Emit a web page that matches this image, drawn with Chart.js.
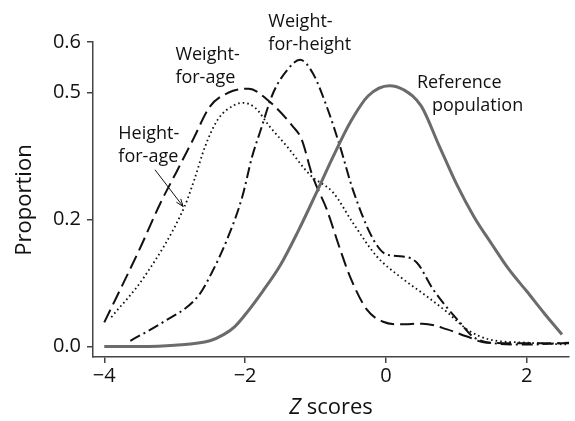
<!DOCTYPE html>
<html>
<head>
<meta charset="utf-8">
<script src="https://cdn.jsdelivr.net/npm/chart.js@4.4.1/dist/chart.umd.min.js"></script>
<style>
  html, body { margin: 0; padding: 0; background: #fff; }
  #wrap { width: 575px; height: 421px; }
</style>
</head>
<body>
<div id="wrap"><canvas id="zChart"></canvas></div>
<script>
// --- datos ---
const zTicks = [-4, -2, 0, 2];
const zTickLabels = ['\u22124', '\u22122', '0', '2'];
const propTicks = [0, 0.2, 0.5, 0.6];
const propTickLabels = ['0.0', '0.2', '0.5', '0.6'];

// Reference population
const refZ = [-4, -3.5, -3, -2.5, -2.3, -2.15, -2, -1.75, -1.5, -1.25, -1, -0.75, -0.5, -0.25, 0.05, 0.25, 0.5, 0.75, 1, 1.25, 1.5, 1.75, 2, 2.25, 2.5];
const refP = [0, 0, 0.002, 0.009, 0.019, 0.031, 0.050, 0.087, 0.128, 0.181, 0.259, 0.349, 0.432, 0.493, 0.514, 0.506, 0.469, 0.377, 0.285, 0.207, 0.162, 0.121, 0.087, 0.052, 0.019];

// Weight-for-age
const wfaZ = [-4, -3.5, -3.2, -2.98, -2.74, -2.5, -2.24, -1.95, -1.68, -1.32, -1.2, -1.04, -0.84, -0.65, -0.51, -0.27, -0.04, 0.2, 0.52, 0.87, 1.14, 1.43, 2.0, 2.6];
const wfaP = [0.038, 0.153, 0.240, 0.311, 0.389, 0.467, 0.500, 0.508, 0.483, 0.420, 0.391, 0.302, 0.224, 0.153, 0.110, 0.058, 0.039, 0.035, 0.036, 0.027, 0.016, 0.006, 0.005, 0.005];

// Height-for-age
const hfaZ = [-3.9, -3.43, -2.86, -2.72, -2.57, -2.39, -2.14, -2.03, -1.86, -1.65, -1.4, -1.08, -0.75, -0.47, -0.13, 0.2, 0.58, 0.87, 1.06, 1.19, 1.47, 2.0, 2.6];
const hfaP = [0.046, 0.110, 0.231, 0.295, 0.372, 0.436, 0.472, 0.476, 0.465, 0.420, 0.372, 0.306, 0.264, 0.195, 0.142, 0.110, 0.079, 0.054, 0.035, 0.024, 0.011, 0.006, 0.003];

// Weight-for-height
const wfhZ = [-3.63, -3.17, -2.67, -2.47, -2.24, -2.04, -1.9, -1.79, -1.6, -1.4, -1.22, -1.04, -0.84, -0.65, -0.47, -0.18, 0.01, 0.24, 0.44, 0.67, 0.87, 1.05, 1.23, 1.47, 2.0, 2.6];
const wfhP = [0.009, 0.038, 0.079, 0.117, 0.173, 0.254, 0.349, 0.406, 0.500, 0.545, 0.565, 0.539, 0.467, 0.372, 0.271, 0.169, 0.145, 0.142, 0.132, 0.090, 0.061, 0.038, 0.016, 0.006, 0.003, 0.006];

// --- eje Y: las marcas no están equiespaciadas en la figura ---
const tickSlots = [0, 1, 2, 2.4];
function toAxis(p) {
    let i = 0;
    while (i < propTicks.length - 2 && p > propTicks[i + 1]) i++;
    const t = (p - propTicks[i]) / (propTicks[i + 1] - propTicks[i]);
    return tickSlots[i] + t * (tickSlots[i + 1] - tickSlots[i]);
}
const pts = (zs, ps) => zs.map((z, i) => ({ x: z, y: toAxis(ps[i]) }));

// --- textos ---
const notes = [
    { lines: ['Weight-', 'for-height'], z: -1.67, p: 0.64, indent: 0 },
    { lines: ['Weight-', 'for-age'], z: -2.99, p: 0.575, indent: 0 },
    { lines: ['Height-', 'for-age'], z: -3.8, p: 0.403, indent: 0 },
    { lines: ['Reference', 'population'], z: 0.44, p: 0.52, indent: 15 }
];
const arrowFrom = { z: -3.28, p: 0.318 };
const arrowTo = { z: -2.88, p: 0.231 };

const FONT = '"Open Sans", "Noto Sans", sans-serif';

const notesPlugin = {
    id: 'notes',
    afterDraw(chart) {
        const { ctx, scales: { x, y } } = chart;
        ctx.save();
        ctx.fillStyle = '#111';
        ctx.font = '18px ' + FONT;
        ctx.textBaseline = 'middle';
        ctx.textAlign = 'left';
        notes.forEach(n => {
            const px = x.getPixelForValue(n.z);
            const py = y.getPixelForValue(toAxis(n.p));
            n.lines.forEach((t, i) => ctx.fillText(t, px + n.indent * i, py + i * 23));
        });

        // flecha Height-for-age
        const x0 = x.getPixelForValue(arrowFrom.z), y0 = y.getPixelForValue(toAxis(arrowFrom.p));
        const x1 = x.getPixelForValue(arrowTo.z), y1 = y.getPixelForValue(toAxis(arrowTo.p));
        const ang = Math.atan2(y1 - y0, x1 - x0);
        ctx.strokeStyle = '#111';
        ctx.lineWidth = 1;
        ctx.beginPath();
        ctx.moveTo(x0, y0);
        ctx.lineTo(x1, y1);
        ctx.moveTo(x1 - 8 * Math.cos(ang - 0.35), y1 - 8 * Math.sin(ang - 0.35));
        ctx.lineTo(x1, y1);
        ctx.lineTo(x1 - 8 * Math.cos(ang + 0.35), y1 - 8 * Math.sin(ang + 0.35));
        ctx.stroke();

        // títulos de ejes
        ctx.font = '22px ' + FONT;
        ctx.textAlign = 'center';
        ctx.save();
        ctx.translate(25, 200);
        ctx.rotate(-Math.PI / 2);
        ctx.fillText('Proportion', 0, 0);
        ctx.restore();

        ctx.font = 'italic 22px ' + FONT;
        const wZ = ctx.measureText('Z').width;
        ctx.font = '22px ' + FONT;
        const wRest = ctx.measureText(' scores').width;
        const startX = 331 - (wZ + wRest) / 2;
        ctx.textAlign = 'left';
        ctx.font = 'italic 22px ' + FONT;
        ctx.fillText('Z', startX, 408);
        ctx.font = '22px ' + FONT;
        ctx.fillText(' scores', startX + wZ, 408);
        ctx.restore();
    }
};

const line = (data, color, width, dash) => ({
    data: data,
    borderColor: color,
    borderWidth: width,
    borderDash: dash,
    pointRadius: 0,
    fill: false,
    cubicInterpolationMode: 'monotone'
});

const axisColor = '#444';

new Chart(document.getElementById('zChart'), {
    type: 'line',
    data: {
        datasets: [
            line(pts(refZ, refP), '#6b6b6b', 3, []),
            line(pts(wfaZ, wfaP), '#111', 2, [14, 6]),
            line(pts(hfaZ, hfaP), '#111', 1.8, [1.6, 3]),
            line(pts(wfhZ, wfhP), '#111', 2, [11, 4, 2, 4])
        ]
    },
    options: {
        responsive: true,
        maintainAspectRatio: false,
        animation: false,
        layout: { padding: { top: 42, right: 6, left: 0, bottom: 0 } },
        plugins: { legend: { display: false }, tooltip: { enabled: false } },
        scales: {
            x: {
                type: 'linear',
                min: -4.16,
                max: 2.6,
                afterBuildTicks: s => { s.ticks = zTicks.map(v => ({ value: v })); },
                afterFit: s => { s.height = 64; },
                grid: { drawOnChartArea: false, drawTicks: true, tickLength: 6, color: axisColor, lineWidth: 1.5 },
                border: { color: axisColor, width: 1.5 },
                ticks: {
                    padding: 1,
                    color: '#111',
                    font: { family: FONT, size: 20 },
                    callback: (v, i) => zTickLabels[i]
                }
            },
            y: {
                type: 'linear',
                min: -0.083,
                max: 2.4,
                afterBuildTicks: s => { s.ticks = propTicks.map(v => ({ value: toAxis(v) })); },
                afterFit: s => { s.width = 93; },
                grid: { drawOnChartArea: false, drawTicks: true, tickLength: 6, color: axisColor, lineWidth: 1.5 },
                border: { color: axisColor, width: 1.5 },
                ticks: {
                    padding: 6,
                    color: '#111',
                    font: { family: FONT, size: 20 },
                    callback: (v, i) => propTickLabels[i]
                }
            }
        }
    },
    plugins: [notesPlugin]
});
</script>
</body>
</html>
